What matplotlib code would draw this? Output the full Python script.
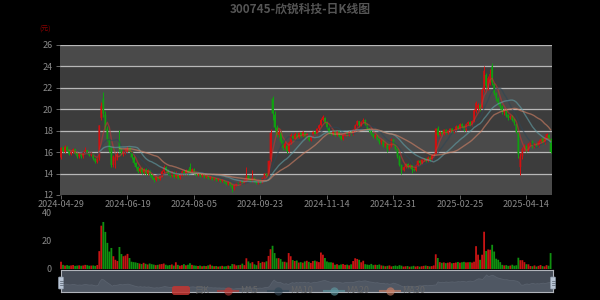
import numpy as np
import pandas as pd
import matplotlib
matplotlib.use('Agg')
import matplotlib.pyplot as plt
from matplotlib.patches import FancyBboxPatch
from matplotlib.lines import Line2D

plt.rcParams['font.family'] = ['Noto Sans CJK SC', 'DejaVu Sans']

title = '300745-欣锐科技-日K线图'
tick_dates = ['2024-04-29', '2024-06-19', '2024-08-05', '2024-09-23',
              '2024-11-14', '2024-12-31', '2025-02-25', '2025-04-14']

opens = [
 15.5,16.4,16.0,16.5,16.2,15.8,16.0,16.3,15.9,15.6,
 15.8,15.6,16.0,16.2,15.9,15.7,15.9,15.4,15.1,15.4,
 19.2,21.0,19.5,18.2,17.2,16.4,14.8,15.2,15.5,17.0,
 16.3,15.8,16.0,16.2,16.4,16.0,15.5,15.0,14.6,14.2,
 14.5,14.1,14.4,14.0,14.3,13.9,13.6,13.4,13.7,13.5,
 13.8,14.2,14.6,14.3,14.0,13.8,14.1,13.7,14.0,13.6,
 13.9,14.2,14.0,14.3,14.6,14.2,14.4,14.1,13.9,14.0,
 13.8,13.9,13.7,13.8,13.6,13.7,13.5,13.6,13.4,13.5,
 13.3,13.4,13.2,13.0,13.2,12.9,12.6,12.9,13.1,13.0,
 13.3,13.1,13.3,13.8,13.5,13.3,13.6,13.3,13.1,13.4,
 13.2,13.6,14.0,13.8,15.3,21.0,19.5,18.3,17.6,17.8,
 17.0,16.4,16.6,16.1,16.9,17.5,17.2,17.6,17.4,17.8,
 17.5,17.8,17.4,17.6,17.1,17.5,17.9,17.7,18.2,18.5,
 19.0,19.2,18.8,18.3,17.8,17.7,18.0,17.6,18.0,17.5,
 17.2,17.6,17.8,17.6,17.9,17.7,18.1,18.5,18.9,18.5,
 18.8,19.0,18.6,18.2,18.0,17.7,17.4,17.6,17.2,16.9,
 17.1,16.6,16.8,16.3,16.6,17.2,16.8,16.3,15.6,14.8,
 14.3,14.6,14.9,14.6,14.8,14.4,14.3,14.8,15.2,15.0,
 15.3,15.4,15.2,15.5,15.3,15.7,15.8,18.2,17.6,17.9,
 17.7,18.1,17.8,18.0,18.2,17.9,18.1,18.4,18.2,18.6,
 18.4,18.1,18.6,18.8,18.5,18.9,19.8,20.1,20.4,20.2,
 21.8,23.2,22.0,22.5,24.0,22.4,21.5,21.0,20.6,20.3,
 19.7,19.9,19.5,19.2,19.4,19.1,18.6,17.8,14.6,15.6,
 16.3,16.6,16.2,16.7,17.0,16.5,16.8,16.6,17.0,17.3,
 16.9,17.3,17.6,17.2]

closes = [
 16.4,16.1,16.5,16.2,15.8,16.0,16.3,15.9,15.6,15.8,
 15.6,16.0,16.2,15.9,15.7,15.9,15.4,15.1,15.4,18.5,
 20.3,19.6,18.3,17.2,16.2,14.8,15.6,15.5,15.8,16.3,
 15.9,16.1,16.3,16.4,16.0,15.5,15.0,14.6,14.2,14.5,
 14.1,14.4,14.0,14.3,13.9,13.6,13.4,13.7,13.5,13.8,
 14.2,14.6,14.3,14.0,13.8,14.1,13.7,14.0,13.6,13.9,
 14.2,14.0,14.3,14.0,14.2,14.4,14.1,13.9,14.0,13.8,
 13.9,13.7,13.8,13.6,13.7,13.5,13.6,13.4,13.5,13.3,
 13.4,13.2,13.0,13.2,12.9,12.6,12.9,13.1,13.0,13.3,
 13.1,13.4,13.8,13.5,13.3,13.6,13.3,13.1,13.4,13.2,
 13.6,14.0,13.8,15.2,17.8,19.6,18.3,17.6,17.9,17.0,
 16.4,16.8,16.1,16.9,17.6,17.2,17.7,17.4,17.8,17.5,
 17.9,17.4,17.7,17.1,17.5,17.9,17.7,18.2,18.5,19.0,
 19.3,18.8,18.3,17.8,17.7,18.0,17.6,18.0,17.5,17.2,
 17.6,17.8,17.6,17.9,17.7,18.1,18.5,18.9,18.5,18.8,
 19.0,18.6,18.2,18.0,17.7,17.4,17.6,17.2,16.9,17.1,
 16.6,16.8,16.3,16.6,17.2,16.8,16.3,15.6,14.8,14.3,
 14.6,14.9,14.6,14.8,14.4,14.3,14.8,15.2,15.0,15.3,
 15.4,15.2,15.5,15.3,15.7,15.8,18.2,17.6,17.9,17.7,
 18.1,17.8,18.0,18.2,17.9,18.1,18.4,18.2,18.6,18.4,
 18.1,18.6,18.8,18.5,18.9,19.9,20.6,20.4,20.0,21.8,
 23.6,22.2,22.9,23.3,22.5,21.5,21.0,20.6,20.2,19.8,
 19.9,19.4,19.2,19.4,19.0,18.7,17.9,15.8,15.6,16.3,
 16.6,16.2,16.8,17.0,16.5,16.8,16.6,17.0,17.2,16.9,
 17.4,17.7,17.2,16.0]

highs = [
 16.5,16.6,16.7,16.6,16.3,16.1,16.4,16.3,16.0,15.9,
 15.9,16.1,16.5,16.2,16.0,16.0,15.9,15.5,15.5,18.5,
 20.7,21.6,19.8,18.4,17.3,16.5,15.7,15.8,16.0,18.1,
 16.4,16.3,16.4,16.6,16.5,16.1,15.6,15.1,14.7,14.6,
 14.6,14.5,14.5,14.4,14.3,14.0,13.7,13.8,13.8,13.9,
 14.3,14.8,14.7,14.4,14.1,14.2,14.2,14.2,14.0,14.0,
 14.3,14.3,14.4,14.4,15.0,14.5,14.5,14.2,14.1,14.1,
 14.0,14.0,13.9,13.9,13.8,13.8,13.7,13.7,13.6,13.6,
 13.5,13.5,13.3,13.3,13.2,13.0,13.0,13.2,13.2,13.4,
 13.4,13.5,14.6,13.9,13.6,14.3,13.7,13.4,13.5,13.5,
 13.7,14.1,14.1,15.3,18.2,21.2,19.8,18.5,18.2,18.0,
 17.1,17.0,16.7,17.0,17.8,17.6,17.9,17.8,17.9,17.9,
 18.0,17.9,17.8,17.7,17.6,18.0,18.0,18.3,18.6,19.2,
 19.5,19.3,18.9,18.4,17.9,18.1,18.1,18.1,18.0,17.6,
 17.7,17.9,17.9,18.0,18.0,18.2,18.6,19.0,18.9,18.9,
 19.2,19.1,18.7,18.3,18.1,17.8,17.7,17.7,17.3,17.2,
 17.2,16.9,16.8,16.7,17.3,17.2,16.9,16.4,15.7,14.9,
 14.7,15.0,15.0,14.9,14.8,14.5,14.9,15.3,15.3,15.4,
 15.5,15.5,15.6,15.6,15.8,15.9,18.3,18.4,18.0,18.0,
 18.2,18.2,18.1,18.3,18.3,18.2,18.5,18.5,18.7,18.7,
 18.5,18.7,18.9,18.9,19.0,20.0,20.8,20.6,20.5,22.0,
 24.0,23.4,23.1,23.8,24.3,22.5,21.6,21.1,20.7,20.4,
 20.0,20.0,19.6,19.5,19.5,19.2,18.7,17.9,15.9,16.5,
 16.8,16.7,16.9,17.1,17.1,16.9,16.9,17.1,17.3,17.4,
 17.5,17.8,17.7,17.3]

lows = [
 15.4,16.0,15.9,16.1,15.7,15.7,15.9,15.8,15.5,15.5,
 15.5,15.5,15.9,15.8,15.6,15.6,15.3,15.0,15.0,15.3,
 19.0,19.3,18.1,17.0,16.0,14.6,14.6,14.5,15.3,16.0,
 15.7,15.6,15.8,16.0,15.9,15.4,14.9,14.5,14.1,14.1,
 14.0,14.0,13.9,13.9,13.8,13.5,13.2,13.3,13.4,13.4,
 13.7,14.1,14.2,13.9,13.7,13.7,13.6,13.6,13.5,13.5,
 13.8,13.9,13.9,13.9,14.1,14.1,14.0,13.8,13.8,13.7,
 13.7,13.6,13.6,13.5,13.5,13.4,13.4,13.3,13.3,13.2,
 13.2,13.1,12.9,12.9,12.8,12.3,12.5,12.8,12.9,12.9,
 13.0,13.0,13.2,13.4,13.2,13.2,13.2,13.0,13.0,13.1,
 13.1,13.5,13.7,13.8,15.2,19.0,18.1,17.4,17.4,16.9,
 16.2,16.3,15.9,16.0,16.8,17.0,17.1,17.3,17.3,17.4,
 17.4,17.3,17.3,17.0,17.0,17.4,17.6,17.6,18.1,18.4,
 18.9,18.7,18.2,17.7,17.6,17.6,17.5,17.5,17.4,17.1,
 17.1,17.5,17.5,17.5,17.6,17.6,18.0,18.4,18.4,18.4,
 18.7,18.5,18.1,17.9,17.6,17.3,17.3,17.1,16.8,16.8,
 16.5,16.5,16.0,16.2,16.5,16.7,16.2,15.5,14.7,14.0,
 14.2,14.5,14.5,14.5,14.1,14.2,14.2,14.7,14.9,14.9,
 15.2,15.1,15.1,15.2,15.2,15.6,15.8,17.5,17.5,17.6,
 17.6,17.7,17.7,17.9,17.8,17.8,18.0,18.1,18.1,18.3,
 18.0,18.0,18.5,18.4,18.4,18.8,19.7,19.9,19.8,20.1,
 21.6,22.0,21.8,22.3,22.3,21.3,20.8,20.4,20.0,19.6,
 19.5,19.3,19.0,19.1,18.9,18.5,17.8,15.5,13.9,15.4,
 16.1,16.0,16.1,16.6,16.4,16.4,16.5,16.5,16.9,16.8,
 16.8,17.2,17.1,15.9]

volumes = [
 5.3,3.0,2.5,2.8,2.4,2.6,2.9,2.3,2.5,2.7,
 2.4,2.6,3.0,2.8,2.4,2.5,2.6,2.3,2.9,13.0,
 31.5,34.2,27.0,19.0,12.7,15.3,9.3,6.7,5.8,16.0,
 10.9,9.3,9.8,11.0,8.0,5.3,5.0,4.8,4.4,4.0,
 3.6,4.5,3.8,3.3,4.0,3.5,3.2,2.8,3.0,3.4,
 3.6,4.0,3.1,2.6,2.9,3.3,2.5,4.9,3.0,2.4,
 2.8,3.5,2.7,3.1,4.2,3.0,2.6,2.4,2.2,2.5,
 2.0,2.3,2.1,2.6,3.2,2.4,2.0,2.2,1.8,2.0,
 2.3,1.9,2.1,2.5,2.2,3.6,3.4,2.6,2.8,3.0,
 3.9,2.8,7.8,5.5,4.2,5.0,3.4,2.8,5.8,4.4,
 5.2,4.9,5.6,9.5,14.4,16.9,11.6,7.8,7.9,7.2,
 5.3,5.3,4.8,11.6,9.3,6.5,5.8,6.2,4.7,5.0,
 4.6,5.5,6.0,5.2,4.4,5.8,6.1,5.5,5.0,12.0,
 10.4,8.0,5.5,4.9,4.9,4.6,3.1,3.5,2.8,3.3,
 3.6,3.0,3.2,2.7,3.4,5.8,7.8,7.3,6.7,4.9,
 6.0,3.5,3.2,3.0,3.7,2.8,3.1,2.9,3.3,2.6,
 2.4,2.0,2.3,2.6,1.9,2.2,2.5,2.1,2.8,2.4,
 1.8,2.0,2.2,1.7,1.9,2.3,1.8,2.1,1.7,2.0,
 2.3,2.5,2.2,1.9,2.1,2.6,10.7,8.0,5.0,4.5,
 4.8,4.3,4.6,4.9,4.2,4.4,4.7,5.1,4.6,4.9,
 5.2,4.8,4.9,5.0,4.7,5.3,16.6,10.4,6.7,10.4,
 27.1,13.1,14.2,14.0,17.6,12.7,7.5,6.7,5.0,3.0,
 2.6,2.8,2.3,2.5,3.1,2.4,2.7,8.2,6.4,6.4,
 5.0,3.5,3.4,2.2,2.0,2.6,1.8,2.3,2.9,2.1,
 1.9,2.8,2.4,11.6]

ma_periods = [5, 10, 20, 30]
ma_colors = ['#c23531', '#2f4554', '#61a0a8', '#d48265']

o = np.array(opens, dtype=float); c = np.array(closes, dtype=float)
h = np.array(highs, dtype=float); l = np.array(lows, dtype=float)
v = np.array(volumes, dtype=float)
n = len(c)
x = np.arange(n)
up = c >= o
cols = ['#d01010' if u else '#10a010' for u in up]
vcols = ['#c81414' if u else '#109010' for u in up]

X0, X1 = -0.5, n - 0.3

fig = plt.figure(figsize=(6, 3), dpi=100, facecolor='black')

# price panel
ax = fig.add_axes([60/600, 1-195/300, 492/600, 150/300])
ax.set_facecolor('black')
for k in range(7):
    ax.axhspan(12+2*k, 14+2*k, color='#4a4a4a' if k % 2 == 0 else '#3c3c3c', lw=0, zorder=0)
for yy in range(14, 27, 2):
    ax.axhline(yy, color='#b8b8b8', lw=0.9, zorder=1)
ax.vlines(x, l, h, colors=cols, lw=0.72, zorder=2)
ax.bar(x, np.maximum(np.abs(c-o), 0.05), bottom=np.minimum(o, c), width=0.9,
       color=cols, edgecolor='none', lw=0, zorder=3, snap=False)
s = pd.Series(c)
for p, col in zip(ma_periods, ma_colors):
    ax.plot(x, s.rolling(p).mean(), color=col, lw=1.0, alpha=0.6, zorder=4)
ax.set_xlim(X0, X1)
ax.set_ylim(12, 26)
ax.set_yticks(range(12, 27, 2))
ax.set_xticks(np.arange(len(tick_dates))*33)
ax.set_xticklabels(tick_dates)
ax.tick_params(colors='#777777', labelcolor='#8a8a8a', labelsize=6.5, length=3, width=0.6)
ax.tick_params(axis='x', pad=0.5)
ax.tick_params(axis='y', pad=2)
for sp in ax.spines.values():
    sp.set_visible(False)

fig.text(45/600, 1-30/300, '(元)', color='#8b0000', fontsize=5, ha='center', va='center')
fig.text(0.5, 1-9/300, title, color='#555555', fontsize=8.5, fontweight='bold',
         ha='center', va='center')

# volume panel
vax = fig.add_axes([60/600, 1-269/300, 492/600, 55/300])
vax.set_facecolor('black')
vax.bar(x, v, width=0.9, color=vcols, edgecolor='none', lw=0, snap=False)
vax.set_xlim(X0, X1)
vax.set_ylim(0, 40)
vax.set_yticks([0, 20, 40])
vax.set_xticks([])
vax.tick_params(colors='#777777', labelcolor='#8a8a8a', labelsize=6.5, length=0, pad=6)
for lab in vax.get_yticklabels():
    lab.set_verticalalignment('center')
for sp in vax.spines.values():
    sp.set_visible(False)

# data zoom slider
zax = fig.add_axes([61/600, 1-292/300, 492/600, 22/300])
zax.set_facecolor('#454c57')
zax.fill_between(x, c, 10, color='#4f5763', lw=0.6, edgecolor='#59616d')
zax.set_xlim(0, n-1)
zax.set_ylim(10, 27)
zax.set_xticks([]); zax.set_yticks([])
for sp in zax.spines.values():
    sp.set_color('#b0b4bb'); sp.set_linewidth(0.8)

# overlay for legend and handles (pixel coordinates)
ov = fig.add_axes([0, 0, 1, 1], zorder=10)
ov.set_xlim(0, 600); ov.set_ylim(300, 0)
ov.axis('off')
ov.patch.set_alpha(0)
for hx in (61, 553):
    ov.add_patch(FancyBboxPatch((hx-2.5, 277), 5, 12, boxstyle='round,pad=0,rounding_size=1',
                                fc='#b8c4d4', ec='#8a96a6', lw=0.5))
    for yy in (281, 283, 285):
        ov.plot([hx-1.5, hx+1.5], [yy, yy], color='#55606e', lw=0.5)

ov.add_patch(FancyBboxPatch((172, 286), 18, 9, boxstyle='round,pad=0,rounding_size=2.5',
                            fc='#c23531', ec='none', alpha=0.85))
ov.text(194, 290.5, '日K', color='#666666', fontsize=6.5, va='center', ha='left')
legend_x = [218, 268, 324, 380]
for lx, p, col in zip(legend_x, ma_periods, ma_colors):
    ov.add_line(Line2D([lx, lx+20], [290.5, 290.5], color=col, lw=1.5, alpha=0.6))
    ov.plot(lx+10, 290.5, 'o', ms=6, color=col, alpha=0.6, mec='none')
    ov.text(lx+22, 290.5, 'MA%d' % p, color='#666666', fontsize=6.5, va='center', ha='left')

fig.savefig('out.png', dpi=100, facecolor='black')
